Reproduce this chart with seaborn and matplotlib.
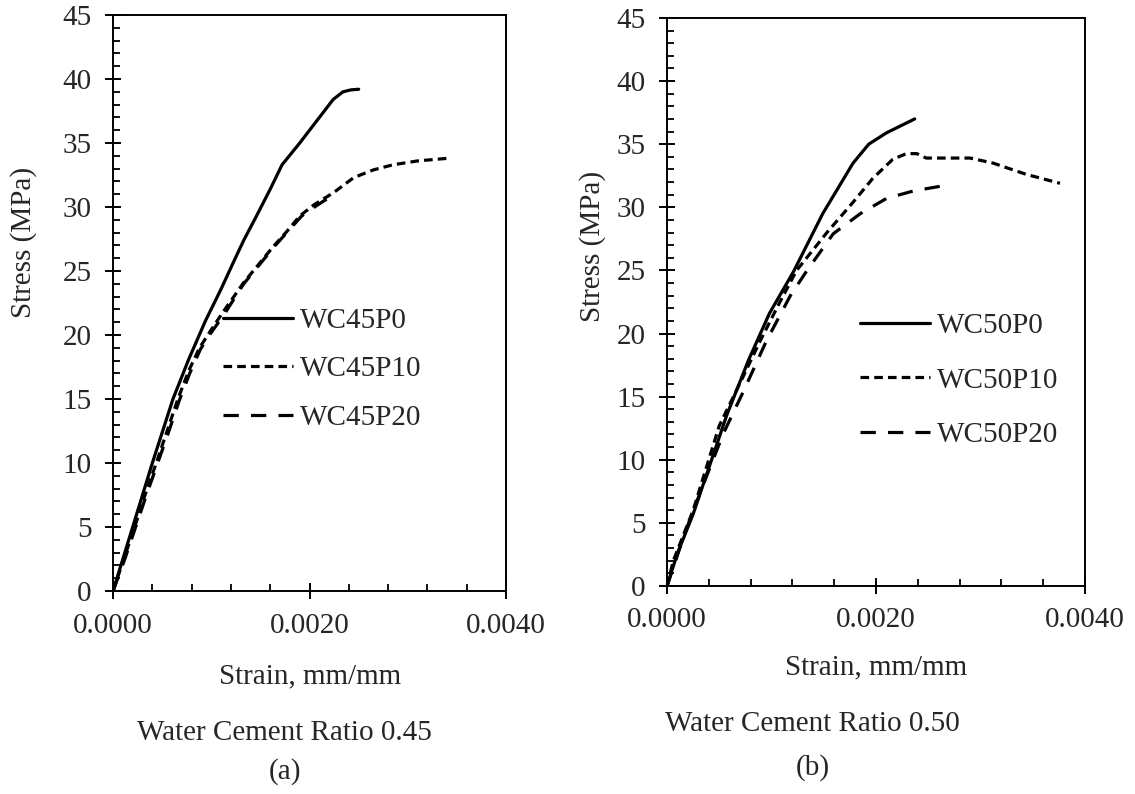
import numpy as np
import pandas as pd
import matplotlib
matplotlib.use("Agg")
import matplotlib.pyplot as plt
import seaborn as sns
from matplotlib.ticker import MultipleLocator, FixedLocator

# ---------------- data ----------------
# Panel (a) w/c 0.45
wc45p0_strain = [0, 0.00020, 0.00040, 0.00061, 0.00077, 0.00094, 0.00110, 0.00122, 0.00133, 0.00146, 0.00160, 0.00172, 0.00190, 0.00210, 0.00224, 0.00234, 0.00242, 0.00250]
wc45p0_stress = [0, 5.0, 10.0, 15.0, 18.1, 21.1, 23.6, 25.6, 27.4, 29.3, 31.4, 33.3, 35.0, 37.0, 38.4, 39.0, 39.15, 39.2]

wc45p10_strain = [0, 0.00011, 0.00022, 0.00033, 0.00044, 0.00055, 0.00066, 0.00077, 0.00088, 0.00099, 0.00112, 0.00133, 0.00148, 0.00163, 0.00177, 0.00190, 0.00205, 0.00224, 0.00245, 0.00265, 0.00285, 0.00310, 0.00340]
wc45p10_stress = [0, 2.5, 5.0, 7.6, 10.0, 12.5, 15.0, 17.2, 19.0, 20.3, 21.8, 24.1, 25.5, 26.9, 28.1, 29.3, 30.2, 31.1, 32.3, 32.9, 33.3, 33.6, 33.8]

wc45p20_strain = [0, 0.00012, 0.00023, 0.00034, 0.00045, 0.00056, 0.00067, 0.00078, 0.00089, 0.00100, 0.00113, 0.00133, 0.00148, 0.00164, 0.00178, 0.00192, 0.00207, 0.00215, 0.00223]
wc45p20_stress = [0, 2.5, 5.0, 7.5, 9.9, 12.3, 14.8, 17.0, 18.9, 20.2, 21.6, 24.0, 25.4, 26.9, 28.1, 29.3, 30.1, 30.5, 30.8]

# Panel (b) w/c 0.50
wc50p0_strain = [0, 0.00010, 0.00025, 0.00041, 0.00057, 0.00078, 0.00098, 0.00121, 0.00149, 0.00178, 0.00193, 0.00210, 0.00237]
wc50p0_stress = [0, 2.6, 5.7, 9.6, 13.5, 17.9, 21.6, 24.9, 29.5, 33.5, 35.0, 35.9, 37.0]

wc50p10_strain = [0, 0.00006, 0.00025, 0.00050, 0.00070, 0.00089, 0.00108, 0.00124, 0.00153, 0.00178, 0.00197, 0.00216, 0.00229, 0.00239, 0.00248, 0.00290, 0.00312, 0.00344, 0.00376]
wc50p10_stress = [0, 2.0, 6.0, 12.7, 16.1, 19.4, 22.5, 25.0, 28.0, 30.4, 32.3, 33.8, 34.25, 34.25, 33.9, 33.9, 33.5, 32.6, 31.9]

wc50p20_strain = [0, 0.00018, 0.00035, 0.00054, 0.00073, 0.00095, 0.00118, 0.00134, 0.00159, 0.00185, 0.00210, 0.00236, 0.00271]
wc50p20_stress = [0, 4.4, 8.1, 12.1, 15.4, 19.4, 23.0, 25.0, 27.9, 29.5, 30.7, 31.3, 31.8]

labels_a = ["WC45P0", "WC45P10", "WC45P20"]
labels_b = ["WC50P0", "WC50P10", "WC50P20"]
x_ticks = [0.0, 0.002, 0.004]
x_tick_labels = ["0.0000", "0.0020", "0.0040"]
y_ticks = [0, 5, 10, 15, 20, 25, 30, 35, 40, 45]

# ---------------- style ----------------
sns.set_theme(style="white")
plt.rcParams["font.family"] = ["Liberation Serif", "DejaVu Serif"]
FS = 21

def make_df(strains, stresses, labels):
    frames = []
    for s, t, l in zip(strains, stresses, labels):
        frames.append(pd.DataFrame({"Strain": s, "Stress": t, "Mix": l}))
    return pd.concat(frames, ignore_index=True)

df_a = make_df([wc45p0_strain, wc45p10_strain, wc45p20_strain],
               [wc45p0_stress, wc45p10_stress, wc45p20_stress], labels_a)
df_b = make_df([wc50p0_strain, wc50p10_strain, wc50p20_strain],
               [wc50p0_stress, wc50p10_stress, wc50p20_stress], labels_b)

fig = plt.figure(figsize=(11.35, 7.94), dpi=100)
ax_a = fig.add_axes([0.0996, 0.2557, 0.3463, 0.7254])
ax_b = fig.add_axes([0.5877, 0.2620, 0.3683, 0.7154])

dash_styles = ["", (2.7, 1.6), (4.8, 3.8)]

def draw(ax, df, labels, leg_anchor, spacing, ylab_xy, xlab_y):
    sns.lineplot(data=df, x="Strain", y="Stress", style="Mix", style_order=labels,
                 dashes=dict(zip(labels, dash_styles)), color="black",
                 linewidth=2.3, estimator=None, sort=False, ax=ax, legend=True)
    ax.set_xlim(0, 0.004)
    ax.set_ylim(0, 45)
    ax.xaxis.set_major_locator(FixedLocator(x_ticks))
    ax.set_xticklabels(x_tick_labels)
    ax.yaxis.set_major_locator(FixedLocator(y_ticks))
    ax.xaxis.set_minor_locator(MultipleLocator(0.0004))
    ax.yaxis.set_minor_locator(MultipleLocator(1))
    ax.tick_params(axis="both", which="major", direction="inout", length=11,
                   width=1.4, color="black", labelsize=FS, pad=10, bottom=True, left=True)
    ax.tick_params(axis="both", which="minor", direction="in", length=5,
                   width=1.3, color="black", bottom=True, left=True)
    for sp in ax.spines.values():
        sp.set_color("black")
        sp.set_linewidth(1.4)
    ax.set_xlabel("Strain, mm/mm", fontsize=FS)
    ax.set_ylabel("Stress (MPa)", fontsize=FS)
    ax.xaxis.set_label_coords(0.5, xlab_y)
    ax.xaxis.label.set_va("center")
    ax.yaxis.set_label_coords(*ylab_xy)
    ax.yaxis.label.set_va("center")
    handles, lbls = ax.get_legend_handles_labels()
    ax.legend(handles, lbls, loc="center left", bbox_to_anchor=leg_anchor,
              frameon=False, fontsize=FS, handlelength=2.4, handletextpad=0.25,
              labelspacing=spacing, borderpad=0, borderaxespad=0)
    ax.grid(False)

draw(ax_a, df_a, labels_a, (0.28, 0.385), 0.76, (-0.228, 0.606), -0.148)
draw(ax_b, df_b, labels_b, (0.462, 0.362), 0.97, (-0.179, 0.597), -0.143)

fig.text(0.251, 1 - 733 / 794, "Water Cement Ratio 0.45", ha="center", va="center", fontsize=FS)
fig.text(0.251, 1 - 772 / 794, "(a)", ha="center", va="center", fontsize=FS)
fig.text(0.716, 1 - 724 / 794, "Water Cement Ratio 0.50", ha="center", va="center", fontsize=FS)
fig.text(0.716, 1 - 768 / 794, "(b)", ha="center", va="center", fontsize=FS)

fig.savefig("out.png", dpi=100, facecolor="white")
